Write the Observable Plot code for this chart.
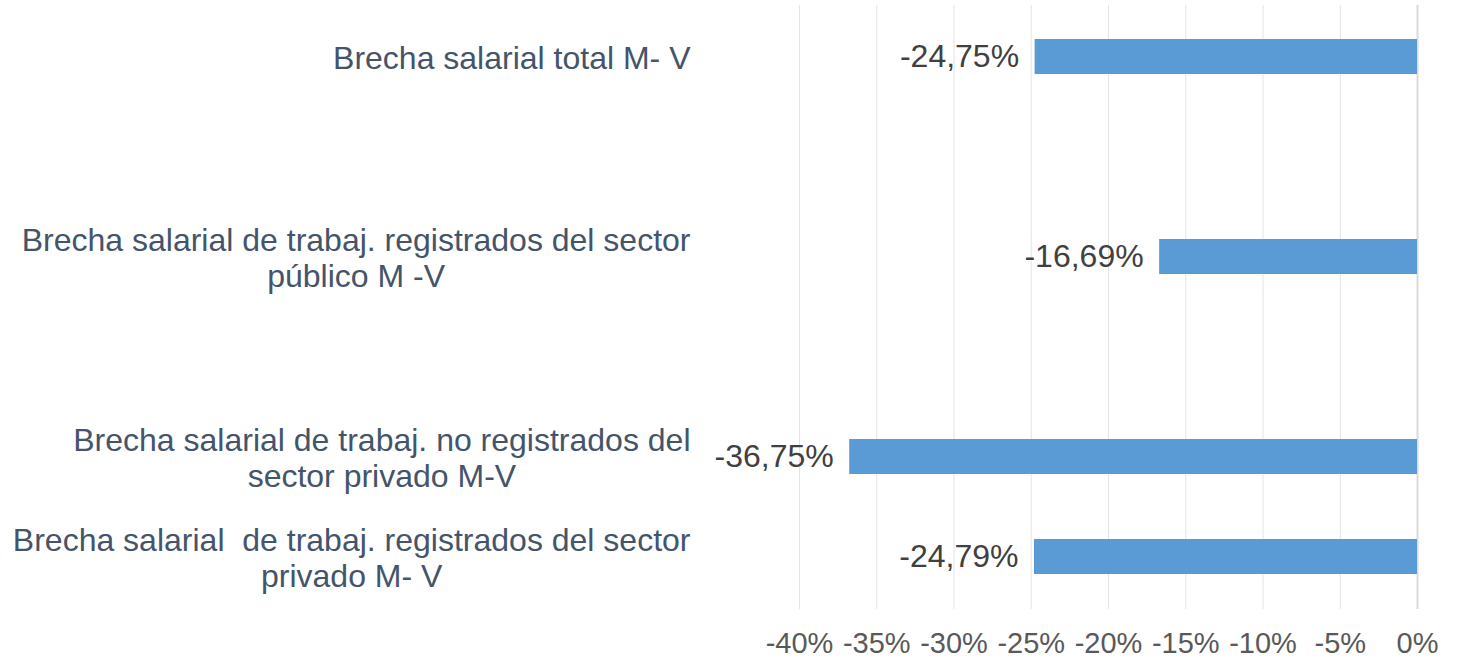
<!DOCTYPE html>
<html><head><meta charset="utf-8">
<script src="https://cdn.jsdelivr.net/npm/d3@7"></script>
<script src="https://cdn.jsdelivr.net/npm/@observablehq/plot@0.6"></script>
<style>
body{margin:0;background:#fff;}
svg{font-family:"Liberation Sans",Arial,sans-serif;}
svg text{white-space:pre;}
</style>
</head><body><div id="chart"></div>
<script>
const categories = [
  "Brecha salarial total M- V",
  "Brecha salarial de trabaj. registrados del sector\npúblico M -V",
  "Brecha salarial de trabaj. no registrados del\nsector privado M-V",
  "Brecha salarial  de trabaj. registrados del sector\nprivado M- V"
];
const values = [-24.75, -16.69, -36.75, -24.79];
const valueLabels = ["-24,75%", "-16,69%", "-36,75%", "-24,79%"];
const xTicks = [-40, -35, -30, -25, -20, -15, -10, -5, 0];
const tickLabels = ["-40%", "-35%", "-30%", "-25%", "-20%", "-15%", "-10%", "-5%", "0%"];
const gapSlots = ["gap-1", "gap-2"];

const yDomain = [categories[0], gapSlots[0], categories[1], gapSlots[1], categories[2], categories[3]];
const data = categories.map((c, i) => ({category: c, value: values[i], label: valueLabels[i]}));

const chart = Plot.plot({
  width: 1465, height: 659,
  marginLeft: 799, marginRight: 48, marginTop: 5, marginBottom: 50,
  x: {domain: [-40, 0]},
  y: {domain: yDomain, paddingInner: 0.648, paddingOuter: 0.324},
  marks: [
    Plot.ruleX(xTicks.slice(0, -1), {stroke: "#e4e4e4", strokeWidth: 1}),
    Plot.ruleX([0], {stroke: "#d9d9d9", strokeWidth: 2}),
    Plot.barX(data, {x: "value", y: "category", fill: "#5b9bd5"}),
    Plot.text(data, {x: "value", y: "category", text: "label", textAnchor: "end", dx: -16, fill: "#404040", fontSize: 32}),
    Plot.axisX({ticks: xTicks, tickFormat: d => tickLabels[xTicks.indexOf(d)], tickSize: 0, tickPadding: 23, fontSize: 29, fill: "#595959", label: null}),
    Plot.axisY({ticks: categories, tickSize: 0, tickPadding: 109, fontSize: 32, fill: "#44546a", lineHeight: 1.13, label: null})
  ]
});
document.getElementById("chart").append(chart);

chart.querySelectorAll("g[aria-label='y-axis tick label'] text").forEach(t => {
  const spans = t.querySelectorAll("tspan");
  if (spans.length < 2) return;
  const w = Math.max(...[...spans].map(s => s.getComputedTextLength()));
  t.setAttribute("text-anchor", "middle");
  spans.forEach(s => s.setAttribute("x", -w / 2));
});
</script>
</body></html>
